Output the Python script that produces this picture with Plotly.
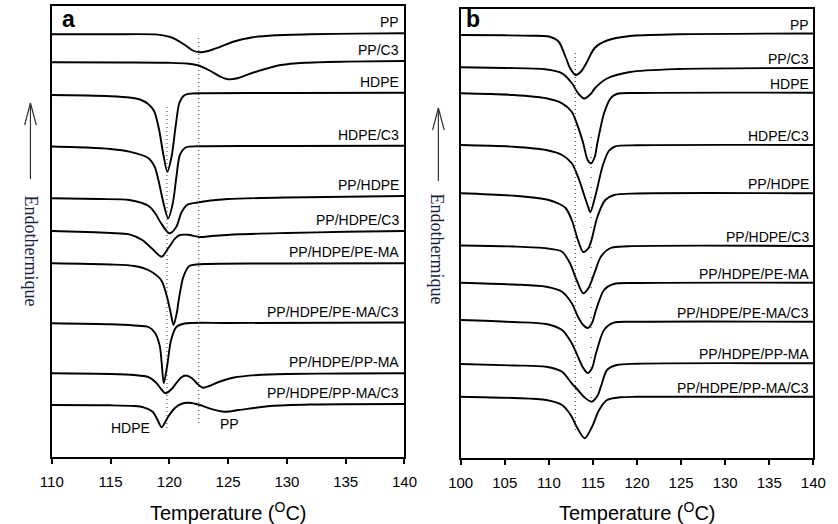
import plotly.graph_objects as go

# ---------------- data ----------------
# Stacked DSC cooling curves, heat flow in arbitrary stacked units
# (values grow downward on the page: exotherm down, axis reversed).
labels = ["PP", "PP/C3", "HDPE", "HDPE/C3", "PP/HDPE", "PP/HDPE/C3",
          "PP/HDPE/PE-MA", "PP/HDPE/PE-MA/C3", "PP/HDPE/PP-MA", "PP/HDPE/PP-MA/C3"]

# ---- panel a (110-140 C)
a_pp_T = [110, 115, 119, 120.2, 121.2, 122.0, 122.6, 123.3, 124.3, 125.5, 127, 129, 132, 136, 140]
a_pp_y = [34.3, 34.3, 34.6, 37.5, 44, 50.5, 52.3, 51, 47, 41.5, 37.5, 35.3, 34.2, 33.6, 33.3]
a_ppc3_T = [110, 116, 120, 121.5, 122.5, 123.5, 124.4, 125.0, 125.8, 126.8, 128, 129.5, 131.5, 135, 140]
a_ppc3_y = [62.3, 62.5, 62.8, 63.5, 65.5, 71, 77, 79.3, 78.3, 74, 69.5, 65, 62.7, 61.6, 61]
a_hdpe_T = [110, 113, 115, 116.6, 117.5, 118.2, 118.7, 119.1, 119.5, 119.83, 120.2, 120.55, 120.85, 121.2, 121.6, 123, 130, 140]
a_hdpe_y = [95, 95.5, 96.2, 97.5, 99.5, 104, 111, 128, 155, 171.7, 156, 125, 103, 96, 93.8, 93.2, 93, 92.7]
a_hdpec3_T = [110, 113, 115, 116.6, 118.2, 118.75, 119.07, 119.5, 119.9, 120.3, 120.6, 120.9, 121.4, 122.5, 130, 140]
a_hdpec3_y = [146.5, 147.5, 149, 151.7, 158, 166.7, 180, 203, 218.3, 203, 177, 155, 147.5, 146.3, 146, 145.8]
a_pphdpe_T = [110, 114, 116.6, 118.24, 118.8, 119.3, 120.0, 120.6, 121.0, 121.5, 122.4, 123.5, 125, 130, 140]
a_pphdpe_y = [198.3, 199, 200, 206, 213.3, 223.3, 233.3, 226.7, 213.3, 205, 202.5, 200.5, 199, 197.5, 196]
a_pphdpec3_T = [110, 113, 115, 116.6, 117.7, 118.5, 119.35, 119.9, 120.5, 120.9, 121.6, 122.6, 123.6, 126, 130, 135, 140]
a_pphdpec3_y = [231, 232, 233, 234.3, 240, 248.3, 256.7, 248.3, 238.3, 235, 234.8, 237, 236, 234.3, 233, 231.8, 231]
a_pema_T = [110, 115, 117, 118.2, 119.3, 119.8, 120.1, 120.36, 120.65, 120.8, 121.2, 121.7, 123, 130, 140]
a_pema_y = [263.3, 264.5, 266, 270, 280, 296.7, 312, 325, 312, 300, 276.7, 266, 264, 263.5, 263.3]
a_pemac3_T = [110, 115, 117, 118.24, 118.8, 119.2, 119.35, 119.53, 119.8, 120.15, 120.6, 121.3, 125, 140]
a_pemac3_y = [323.3, 324.3, 325.5, 327, 333.3, 346.7, 363, 383.3, 367, 340, 327, 323.5, 323, 322.5]
a_ppma_T = [110, 115, 117, 118.2, 118.9, 119.3, 119.67, 120.2, 120.6, 121.0, 121.4, 121.9, 122.4, 122.85, 123.4, 124.2, 125.5, 127.5, 130, 135, 140]
a_ppma_y = [373.3, 374, 375, 377, 383, 389, 393.3, 389, 383, 377.5, 375.5, 378, 384, 387.7, 386, 382, 377.5, 375, 374, 373.5, 373.3]
a_ppmac3_T = [110, 115, 117, 117.8, 118.6, 119.0, 119.34, 119.9, 120.45, 121.0, 121.7, 122.6, 123.4, 124.7, 125.9, 128.6, 132, 140]
a_ppmac3_y = [405, 405.3, 406, 407.3, 412, 420, 427.3, 416.7, 408.3, 404, 402.7, 405, 408.3, 411.7, 410, 406, 404.5, 404]

# ---- panel b (100-140 C)
b_pp_T = [100, 105, 108, 110, 111.1, 111.9, 112.4, 113.04, 113.7, 114.2, 115.2, 116.6, 119.2, 124.7, 140]
b_pp_y = [35, 35.3, 35.7, 36.5, 41.5, 57, 68, 75, 71, 64, 48, 40.5, 36, 34.3, 33.5]
b_ppc3_T = [100, 105, 109.6, 111.5, 112.6, 113.3, 114.0, 114.8, 115.2, 116.6, 119.2, 124.7, 140]
b_ppc3_y = [67.3, 68, 69.3, 73.3, 83, 93, 98.5, 93.5, 88.5, 78.5, 72, 69, 68]
b_hdpe_T = [100, 106, 109.7, 111.5, 112.6, 113.3, 113.9, 114.4, 114.8, 115.2, 115.5, 116.26, 117, 117.7, 120, 140]
b_hdpe_y = [93.3, 95, 98.3, 103.3, 111.7, 126.7, 143.3, 160, 163.3, 157, 143.3, 113.3, 98.3, 94, 93, 92.7]
b_hdpec3_T = [100, 106, 109.7, 111.5, 112.6, 113.3, 114.07, 114.45, 114.7, 115.35, 116.1, 116.8, 117.5, 120, 140]
b_hdpec3_y = [145, 146.7, 150, 155, 163.3, 176.7, 196.7, 206.7, 212.3, 193.3, 166, 151, 146.5, 145.3, 145]
b_pphdpe_T = [100, 106.4, 110, 111.2, 111.9, 112.6, 113.3, 113.9, 114.5, 114.84, 115.5, 116.4, 117.4, 120, 140]
b_pphdpe_y = [193.3, 196, 200, 204, 208, 220, 240, 252, 248, 240, 217, 200, 195, 193.5, 193.3]
b_pphdpec3_T = [100, 106, 109.7, 111.5, 112.4, 113.15, 113.9, 114.5, 115.16, 115.9, 117, 119, 140]
b_pphdpec3_y = [245.5, 246.5, 248.3, 251.7, 263.3, 280, 293.3, 288, 273.3, 256.7, 248, 246.3, 246]
b_pema_T = [100, 106, 109.7, 111.5, 112.6, 113.3, 113.9, 114.4, 114.9, 115.35, 116.26, 117.36, 120, 140]
b_pema_y = [282.7, 284.5, 286.7, 291.7, 303.3, 316.7, 325, 328, 323, 310, 290, 284, 283, 282.7]
b_pemac3_T = [100, 106, 109.7, 111.5, 112.6, 113.3, 113.9, 114.4, 114.9, 115.35, 116.26, 117.36, 120, 140]
b_pemac3_y = [320, 322, 324, 330, 343.3, 356.7, 368, 373, 368, 353.3, 330, 322.7, 321.8, 321.7]
b_ppma_T = [100, 106, 109.7, 111.5, 112.6, 113.3, 114.0, 114.85, 115.5, 115.9, 116.6, 117.7, 120, 140]
b_ppma_y = [364, 365.5, 366.7, 371.7, 383.3, 390, 397, 401.7, 396, 386.7, 370, 365, 363.7, 363.3]
b_ppmac3_T = [100, 106, 109.7, 111.5, 112.6, 113.15, 114.07, 114.9, 115.7, 116.6, 118.1, 120, 140]
b_ppmac3_y = [396.7, 398, 400, 405, 416.7, 426.7, 438.3, 426.7, 410, 400, 397.3, 396.8, 396.7]

# peak-temperature guide lines: temperature, top, bottom
a_guides_T = [119.8, 122.5]
a_guides_top = [107, 38]
a_guides_bot = [430, 426]
b_guides_T = [113.0, 114.8]
b_guides_top = [53, 137]
b_guides_bot = [433, 407]

a_ticks = [110, 115, 120, 125, 130, 135, 140]
b_ticks = [100, 105, 110, 115, 120, 125, 130, 135, 140]

panel_a = [(a_pp_T, a_pp_y), (a_ppc3_T, a_ppc3_y), (a_hdpe_T, a_hdpe_y), (a_hdpec3_T, a_hdpec3_y),
           (a_pphdpe_T, a_pphdpe_y), (a_pphdpec3_T, a_pphdpec3_y), (a_pema_T, a_pema_y),
           (a_pemac3_T, a_pemac3_y), (a_ppma_T, a_ppma_y), (a_ppmac3_T, a_ppmac3_y)]
panel_b = [(b_pp_T, b_pp_y), (b_ppc3_T, b_ppc3_y), (b_hdpe_T, b_hdpe_y), (b_hdpec3_T, b_hdpec3_y),
           (b_pphdpe_T, b_pphdpe_y), (b_pphdpec3_T, b_pphdpec3_y), (b_pema_T, b_pema_y),
           (b_pemac3_T, b_pemac3_y), (b_ppma_T, b_ppma_y), (b_ppmac3_T, b_ppmac3_y)]

# ---------------- figure ----------------
W, H = 838, 524
FONT = "Liberation Sans, Arial, sans-serif"
fig = go.Figure()

def px_x(p):
    return p / W

def px_y(p):
    return (H - p) / H

for (T, y), name in zip(panel_a, labels):
    fig.add_trace(go.Scatter(x=T, y=y, mode="lines", xaxis="x", yaxis="y",
                             line=dict(color="black", width=1.9, shape="spline", smoothing=0.8),
                             name=name, showlegend=False, hoverinfo="skip"))
for (T, y), name in zip(panel_b, labels):
    fig.add_trace(go.Scatter(x=T, y=y, mode="lines", xaxis="x2", yaxis="y2",
                             line=dict(color="black", width=1.9, shape="spline", smoothing=0.8),
                             name=name, showlegend=False, hoverinfo="skip"))

for T, t0, t1 in zip(a_guides_T, a_guides_top, a_guides_bot):
    fig.add_trace(go.Scatter(x=[T, T], y=[t0, t1], mode="lines", xaxis="x", yaxis="y",
                             line=dict(color="#333", width=1, dash="1px,3px"),
                             showlegend=False, hoverinfo="skip"))
for i, (T, t0, t1) in enumerate(zip(b_guides_T, b_guides_top, b_guides_bot)):
    fig.add_trace(go.Scatter(x=[T, T], y=[t0, t1], mode="lines", xaxis="x2", yaxis="y2",
                             line=dict(color="#333", width=1, dash="1px,3px" if i == 0 else "1px,9px"),
                             showlegend=False, hoverinfo="skip"))

ann = []
for (T, y), name in zip(panel_a, labels):
    ann.append(dict(x=139.7, y=y[-1], xref="x", yref="y", text=name, showarrow=False,
                    xanchor="right", yanchor="bottom", yshift=1,
                    font=dict(family=FONT, size=14, color="black")))
for (T, y), name in zip(panel_b, labels):
    ann.append(dict(x=139.7, y=y[-1], xref="x2", yref="y2", text=name, showarrow=False,
                    xanchor="right", yanchor="bottom", yshift=-1,
                    font=dict(family=FONT, size=14, color="black")))

# peak names in panel a
ann.append(dict(x=116.7, y=428, xref="x", yref="y", text="HDPE", showarrow=False,
                font=dict(family=FONT, size=14, color="black")))
ann.append(dict(x=125.1, y=424, xref="x", yref="y", text="PP", showarrow=False,
                font=dict(family=FONT, size=14, color="black")))

# panel letters
ann.append(dict(x=px_x(48), y=px_y(19), xref="paper", yref="paper", text="<b>a</b>", showarrow=False,
                xanchor="left", yanchor="middle", font=dict(family=FONT, size=23, color="black")))
ann.append(dict(x=px_x(465), y=px_y(19), xref="paper", yref="paper", text="<b>b</b>", showarrow=False,
                xanchor="left", yanchor="middle", font=dict(family=FONT, size=23, color="black")))

# axis titles
for cx in (222, 644):
    ann.append(dict(x=px_x(cx), y=px_y(511), xref="paper", yref="paper",
                    text="Temperature (<sup>O</sup>C)", showarrow=False,
                    xanchor="center", yanchor="middle", font=dict(family=FONT, size=20, color="black")))

# "Endothermique" labels
for cx, cy in ((19, 251), (438, 249)):
    ann.append(dict(x=px_x(cx), y=px_y(cy), xref="paper", yref="paper", text="Endothermique",
                    showarrow=False, textangle=90, xanchor="center", yanchor="middle",
                    font=dict(family="Liberation Serif, Times New Roman, serif", size=18, color="#17223f")))

shapes = []
for ax, top, bot in ((18, 103, 179), (439, 108, 181)):
    shapes.append(dict(type="line", xref="paper", yref="paper", x0=px_x(ax), x1=px_x(ax),
                       y0=px_y(bot), y1=px_y(top), line=dict(color="#333", width=1.2)))
    shapes.append(dict(type="line", xref="paper", yref="paper", x0=px_x(ax), x1=px_x(ax - 6),
                       y0=px_y(top), y1=px_y(top + 22), line=dict(color="#333", width=1.2)))
    shapes.append(dict(type="line", xref="paper", yref="paper", x0=px_x(ax), x1=px_x(ax + 6),
                       y0=px_y(top), y1=px_y(top + 22), line=dict(color="#333", width=1.2)))

axis_common = dict(showline=True, linecolor="black", linewidth=2, mirror=True,
                   showgrid=False, zeroline=False)
xcommon = dict(axis_common, ticks="outside", ticklen=5, tickwidth=1.5, tickcolor="black",
               tickfont=dict(family=FONT, size=15, color="black"), ticklabelstandoff=5)

fig.update_layout(
    width=W, height=H,
    margin=dict(l=0, r=0, t=0, b=0),
    paper_bgcolor="white", plot_bgcolor="white",
    xaxis=dict(xcommon, domain=[40 / W, 404 / W], range=[110, 140], tickvals=a_ticks, anchor="y"),
    yaxis=dict(axis_common, domain=[px_y(457), px_y(6)], range=[457, 6], showticklabels=False,
               ticks="", anchor="x"),
    xaxis2=dict(xcommon, domain=[462 / W, 826 / W], range=[100, 140], tickvals=b_ticks, anchor="y2"),
    yaxis2=dict(axis_common, domain=[px_y(458), px_y(9)], range=[458, 9], showticklabels=False,
                ticks="", anchor="x2"),
    annotations=ann,
    shapes=shapes,
)

fig.write_html("out.html")
